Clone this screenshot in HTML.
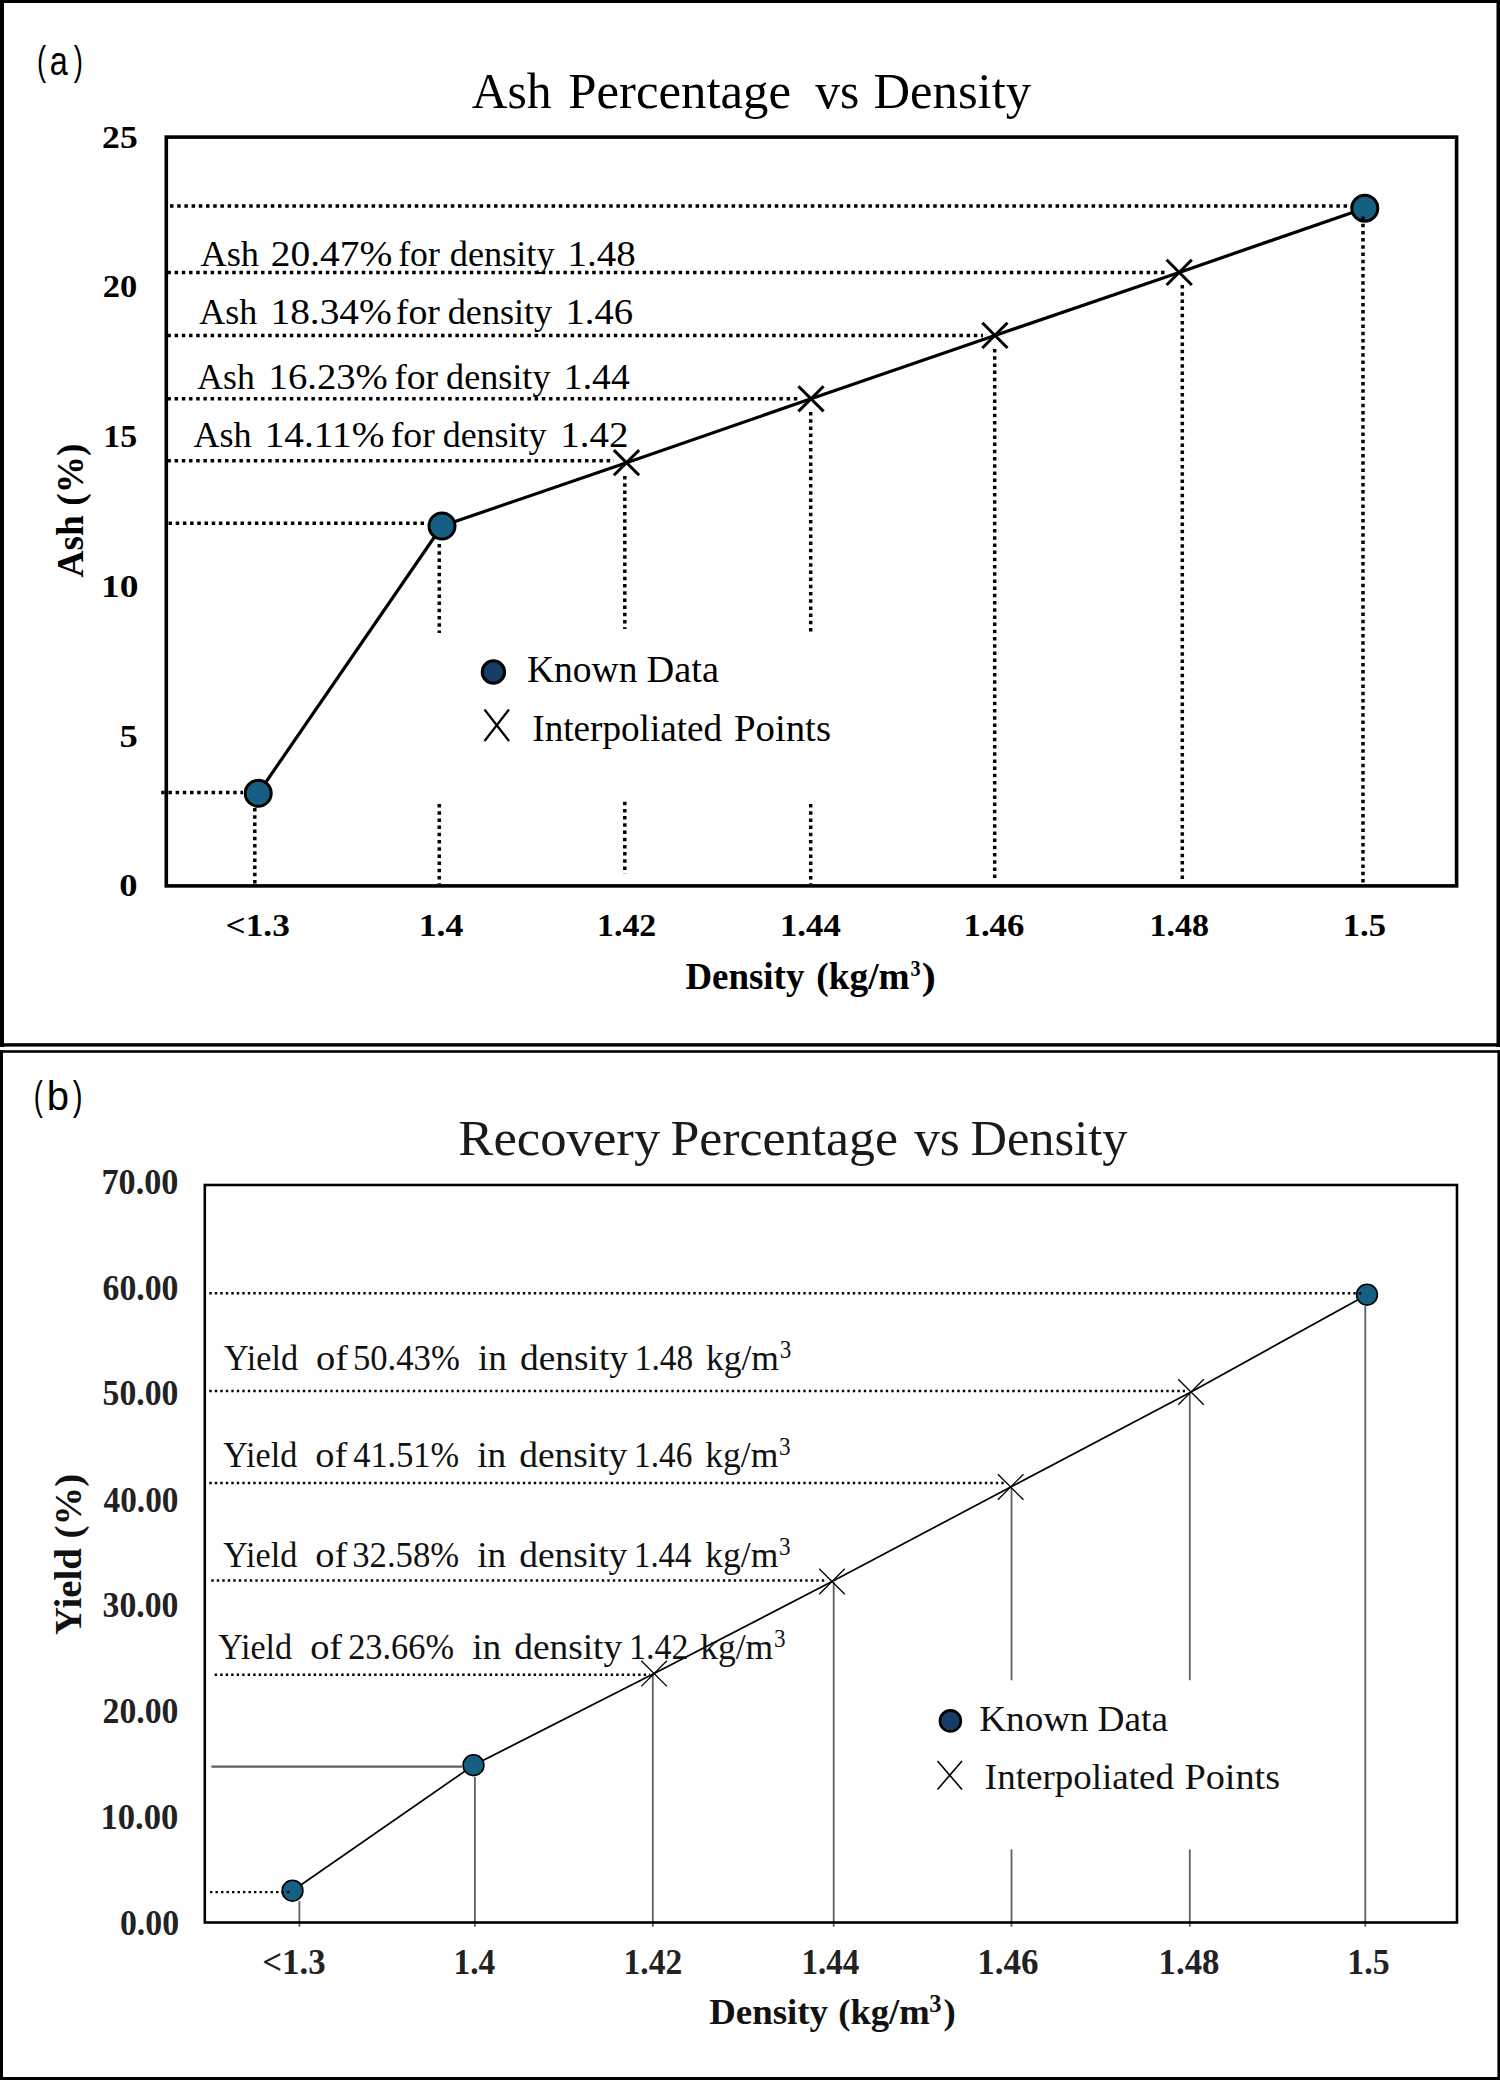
<!DOCTYPE html>
<html><head><meta charset="utf-8"><title>Ash and Recovery Percentage vs Density</title>
<style>
html,body{margin:0;padding:0;background:#fff;}
body{width:1500px;height:2080px;overflow:hidden;}
svg{display:block;}
</style></head>
<body>
<svg width="1500" height="2080" viewBox="0 0 1500 2080">
<rect x="0" y="0" width="1500" height="2080" fill="#fff"/>
<rect x="0" y="0" width="1500" height="3" fill="#000"/>
<rect x="0" y="0" width="4" height="1047" fill="#000"/>
<rect x="1496.5" y="0" width="3.5" height="1047" fill="#000"/>
<rect x="0" y="1043.2" width="1500" height="3.4" fill="#000"/>
<rect x="0" y="1050.2" width="1500" height="2.6" fill="#000"/>
<rect x="0" y="1050.2" width="3" height="1030" fill="#000"/>
<rect x="1497.4" y="1050.2" width="2.6" height="1030" fill="#000"/>
<rect x="0" y="2077" width="1500" height="3" fill="#000"/>
<rect x="166.3" y="137.1" width="1290.3" height="748.8" fill="none" stroke="#000" stroke-width="3.6"/>
<line x1="161.2" y1="792.5" x2="243" y2="792.5" stroke="#000" stroke-width="3.5" stroke-linecap="butt" stroke-dasharray="3.5 3.7"/>
<line x1="168.5" y1="523.3" x2="427" y2="523.3" stroke="#000" stroke-width="3.5" stroke-linecap="butt" stroke-dasharray="3.5 3.7"/>
<line x1="167.4" y1="460.7" x2="614" y2="460.7" stroke="#000" stroke-width="3.5" stroke-linecap="butt" stroke-dasharray="3.5 3.7"/>
<line x1="167.4" y1="398.8" x2="798" y2="398.8" stroke="#000" stroke-width="3.5" stroke-linecap="butt" stroke-dasharray="3.5 3.7"/>
<line x1="167.4" y1="335.6" x2="983" y2="335.6" stroke="#000" stroke-width="3.5" stroke-linecap="butt" stroke-dasharray="3.5 3.7"/>
<line x1="167.4" y1="272.4" x2="1167" y2="272.4" stroke="#000" stroke-width="3.5" stroke-linecap="butt" stroke-dasharray="3.5 3.7"/>
<line x1="170" y1="205.9" x2="1352" y2="205.9" stroke="#000" stroke-width="3.5" stroke-linecap="butt" stroke-dasharray="3.5 3.7"/>
<line x1="254.8" y1="808" x2="254.8" y2="884" stroke="#000" stroke-width="3.5" stroke-linecap="butt" stroke-dasharray="3.5 3.7"/>
<line x1="439.3" y1="544" x2="439.3" y2="633" stroke="#000" stroke-width="3.5" stroke-linecap="butt" stroke-dasharray="3.5 3.7"/>
<line x1="439.3" y1="804" x2="439.3" y2="884" stroke="#000" stroke-width="3.5" stroke-linecap="butt" stroke-dasharray="3.5 3.7"/>
<line x1="624.8" y1="476" x2="624.8" y2="629" stroke="#000" stroke-width="3.5" stroke-linecap="butt" stroke-dasharray="3.5 3.7"/>
<line x1="624.8" y1="801.7" x2="624.8" y2="874" stroke="#000" stroke-width="3.5" stroke-linecap="butt" stroke-dasharray="3.5 3.7"/>
<line x1="810.7" y1="412" x2="810.7" y2="632" stroke="#000" stroke-width="3.5" stroke-linecap="butt" stroke-dasharray="3.5 3.7"/>
<line x1="810.7" y1="804" x2="810.7" y2="884" stroke="#000" stroke-width="3.5" stroke-linecap="butt" stroke-dasharray="3.5 3.7"/>
<line x1="994.7" y1="349" x2="994.7" y2="880" stroke="#000" stroke-width="3.5" stroke-linecap="butt" stroke-dasharray="3.5 3.7"/>
<line x1="1182.3" y1="285" x2="1182.3" y2="880" stroke="#000" stroke-width="3.5" stroke-linecap="butt" stroke-dasharray="3.5 3.7"/>
<polyline points="258.2,793.3 442,526 626.5,462.7 811,398.8 994.9,335.4 1179.2,272.4 1364.8,208.2" fill="none" stroke="#000" stroke-width="3.2" stroke-linejoin="round"/>
<line x1="613.9" y1="450.09999999999997" x2="639.1" y2="475.3" stroke="#000" stroke-width="3.0" stroke-linecap="butt"/>
<line x1="613.9" y1="475.3" x2="639.1" y2="450.09999999999997" stroke="#000" stroke-width="3.0" stroke-linecap="butt"/>
<line x1="798.4" y1="386.2" x2="823.6" y2="411.40000000000003" stroke="#000" stroke-width="3.0" stroke-linecap="butt"/>
<line x1="798.4" y1="411.40000000000003" x2="823.6" y2="386.2" stroke="#000" stroke-width="3.0" stroke-linecap="butt"/>
<line x1="982.3" y1="322.79999999999995" x2="1007.5" y2="348.0" stroke="#000" stroke-width="3.0" stroke-linecap="butt"/>
<line x1="982.3" y1="348.0" x2="1007.5" y2="322.79999999999995" stroke="#000" stroke-width="3.0" stroke-linecap="butt"/>
<line x1="1166.6000000000001" y1="259.79999999999995" x2="1191.8" y2="285.0" stroke="#000" stroke-width="3.0" stroke-linecap="butt"/>
<line x1="1166.6000000000001" y1="285.0" x2="1191.8" y2="259.79999999999995" stroke="#000" stroke-width="3.0" stroke-linecap="butt"/>
<circle cx="258.2" cy="793.3" r="13" fill="#165f83" stroke="#000" stroke-width="3"/>
<circle cx="442" cy="526" r="13" fill="#165f83" stroke="#000" stroke-width="3"/>
<circle cx="1364.8" cy="208.2" r="13" fill="#165f83" stroke="#000" stroke-width="3"/>
<line x1="1363" y1="216.5" x2="1363" y2="884" stroke="#000" stroke-width="3.5" stroke-linecap="butt" stroke-dasharray="3.5 3.7"/>
<circle cx="493.4" cy="672" r="11.2" fill="#173c66" stroke="#000" stroke-width="3"/>
<line x1="484.5" y1="709.5" x2="509" y2="741" stroke="#000" stroke-width="2.2" stroke-linecap="butt"/>
<line x1="509" y1="709.5" x2="484.5" y2="741" stroke="#000" stroke-width="2.2" stroke-linecap="butt"/>
<line x1="211.3" y1="1766.7" x2="462" y2="1766.7" stroke="#606060" stroke-width="2.3" stroke-linecap="butt"/>
<line x1="299.4" y1="1901" x2="299.4" y2="1926.7" stroke="#606060" stroke-width="1.8" stroke-linecap="butt"/>
<line x1="474.9" y1="1777" x2="474.9" y2="1926.7" stroke="#606060" stroke-width="1.8" stroke-linecap="butt"/>
<line x1="652.8" y1="1675" x2="652.8" y2="1926.7" stroke="#606060" stroke-width="1.8" stroke-linecap="butt"/>
<line x1="833.7" y1="1582" x2="833.7" y2="1926.7" stroke="#606060" stroke-width="1.8" stroke-linecap="butt"/>
<line x1="1011.5" y1="1488" x2="1011.5" y2="1680.3" stroke="#606060" stroke-width="1.8" stroke-linecap="butt"/>
<line x1="1011.5" y1="1849.4" x2="1011.5" y2="1926.7" stroke="#606060" stroke-width="1.8" stroke-linecap="butt"/>
<line x1="1189.8" y1="1393" x2="1189.8" y2="1680.3" stroke="#606060" stroke-width="1.8" stroke-linecap="butt"/>
<line x1="1189.8" y1="1849.4" x2="1189.8" y2="1926.7" stroke="#606060" stroke-width="1.8" stroke-linecap="butt"/>
<line x1="1365.3" y1="1306" x2="1365.3" y2="1926.7" stroke="#606060" stroke-width="1.8" stroke-linecap="butt"/>
<rect x="204.8" y="1185" width="1252.2" height="737.5" fill="none" stroke="#000" stroke-width="2.6"/>
<polyline points="292.5,1890.7 473.5,1765.2 654.1,1673.6 832,1581.5 1010.7,1487 1191,1392 1367,1294.7" fill="none" stroke="#000" stroke-width="1.7"/>
<line x1="641.3000000000001" y1="1660.8" x2="666.9" y2="1686.3999999999999" stroke="#000" stroke-width="1.3" stroke-linecap="butt"/>
<line x1="641.3000000000001" y1="1686.3999999999999" x2="666.9" y2="1660.8" stroke="#000" stroke-width="1.3" stroke-linecap="butt"/>
<line x1="819.2" y1="1568.7" x2="844.8" y2="1594.3" stroke="#000" stroke-width="1.3" stroke-linecap="butt"/>
<line x1="819.2" y1="1594.3" x2="844.8" y2="1568.7" stroke="#000" stroke-width="1.3" stroke-linecap="butt"/>
<line x1="997.9000000000001" y1="1474.2" x2="1023.5" y2="1499.8" stroke="#000" stroke-width="1.3" stroke-linecap="butt"/>
<line x1="997.9000000000001" y1="1499.8" x2="1023.5" y2="1474.2" stroke="#000" stroke-width="1.3" stroke-linecap="butt"/>
<line x1="1178.2" y1="1379.2" x2="1203.8" y2="1404.8" stroke="#000" stroke-width="1.3" stroke-linecap="butt"/>
<line x1="1178.2" y1="1404.8" x2="1203.8" y2="1379.2" stroke="#000" stroke-width="1.3" stroke-linecap="butt"/>
<circle cx="292.5" cy="1890.7" r="10.4" fill="#165f83" stroke="#000" stroke-width="1.6"/>
<circle cx="473.5" cy="1765.2" r="10.4" fill="#165f83" stroke="#000" stroke-width="1.6"/>
<circle cx="1367" cy="1294.7" r="10.4" fill="#165f83" stroke="#000" stroke-width="1.6"/>
<line x1="210" y1="1892.1" x2="292" y2="1892.1" stroke="#000" stroke-width="2.4" stroke-linecap="butt" stroke-dasharray="2.4 3.1"/>
<line x1="214.7" y1="1674.7" x2="650" y2="1674.7" stroke="#000" stroke-width="2.4" stroke-linecap="butt" stroke-dasharray="2.4 3.1"/>
<line x1="211.3" y1="1580.5" x2="826" y2="1580.5" stroke="#000" stroke-width="2.4" stroke-linecap="butt" stroke-dasharray="2.4 3.1"/>
<line x1="209.3" y1="1483" x2="1005" y2="1483" stroke="#000" stroke-width="2.4" stroke-linecap="butt" stroke-dasharray="2.4 3.1"/>
<line x1="209.3" y1="1391" x2="1185" y2="1391" stroke="#000" stroke-width="2.4" stroke-linecap="butt" stroke-dasharray="2.4 3.1"/>
<line x1="209.3" y1="1293.3" x2="1364" y2="1293.3" stroke="#000" stroke-width="2.4" stroke-linecap="butt" stroke-dasharray="2.4 3.1"/>
<circle cx="950.4" cy="1720.9" r="10.5" fill="#173c66" stroke="#000" stroke-width="2.6"/>
<line x1="937.5" y1="1761" x2="962" y2="1789.5" stroke="#000" stroke-width="1.6" stroke-linecap="butt"/>
<line x1="962" y1="1761" x2="937.5" y2="1789.5" stroke="#000" stroke-width="1.6" stroke-linecap="butt"/>
<text x="36.96" y="75.0" font-family='"Liberation Sans", sans-serif' font-size="41.2" font-weight="normal" fill="#000" textLength="9.14" lengthAdjust="spacingAndGlyphs">(</text>
<text x="49.84" y="75.0" font-family='"Liberation Sans", sans-serif' font-size="41.2" font-weight="normal" fill="#000" textLength="18.06" lengthAdjust="spacingAndGlyphs">a</text>
<text x="73.8" y="75.0" font-family='"Liberation Sans", sans-serif' font-size="41.2" font-weight="normal" fill="#000" textLength="9.14" lengthAdjust="spacingAndGlyphs">)</text>
<text x="471.7" y="107.7" font-family='"Liberation Serif", serif' font-size="51.4" font-weight="normal" fill="#000" textLength="80.0" lengthAdjust="spacingAndGlyphs">Ash</text>
<text x="568.19" y="107.7" font-family='"Liberation Serif", serif' font-size="51.4" font-weight="normal" fill="#000" textLength="222.83" lengthAdjust="spacingAndGlyphs">Percentage</text>
<text x="815.3" y="107.7" font-family='"Liberation Serif", serif' font-size="51.4" font-weight="normal" fill="#000" textLength="44.05" lengthAdjust="spacingAndGlyphs">vs</text>
<text x="873.49" y="107.7" font-family='"Liberation Serif", serif' font-size="51.4" font-weight="normal" fill="#000" textLength="157.6" lengthAdjust="spacingAndGlyphs">Density</text>
<text x="102.13" y="147.6" font-family='"Liberation Serif", serif' font-size="32" font-weight="bold" fill="#000" textLength="35.56" lengthAdjust="spacingAndGlyphs">25</text>
<text x="102.85" y="297.1" font-family='"Liberation Serif", serif' font-size="32" font-weight="bold" fill="#000" textLength="34.49" lengthAdjust="spacingAndGlyphs">20</text>
<text x="103.2" y="447.1" font-family='"Liberation Serif", serif' font-size="32" font-weight="bold" fill="#000" textLength="33.88" lengthAdjust="spacingAndGlyphs">15</text>
<text x="101.13" y="597.0" font-family='"Liberation Serif", serif' font-size="32" font-weight="bold" fill="#000" textLength="37.49" lengthAdjust="spacingAndGlyphs">10</text>
<text x="119.46" y="746.5" font-family='"Liberation Serif", serif' font-size="32" font-weight="bold" fill="#000" textLength="18.29" lengthAdjust="spacingAndGlyphs">5</text>
<text x="119.26" y="896.4" font-family='"Liberation Serif", serif' font-size="32" font-weight="bold" fill="#000" textLength="18.29" lengthAdjust="spacingAndGlyphs">0</text>
<text x="225.51" y="936.4" font-family='"Liberation Serif", serif' font-size="31.5" font-weight="bold" fill="#000" textLength="64.31" lengthAdjust="spacingAndGlyphs">&lt;1.3</text>
<text x="418.75" y="936.4" font-family='"Liberation Serif", serif' font-size="31.5" font-weight="bold" fill="#000" textLength="44.67" lengthAdjust="spacingAndGlyphs">1.4</text>
<text x="597.09" y="936.4" font-family='"Liberation Serif", serif' font-size="31.5" font-weight="bold" fill="#000" textLength="59.17" lengthAdjust="spacingAndGlyphs">1.42</text>
<text x="779.98" y="936.4" font-family='"Liberation Serif", serif' font-size="31.5" font-weight="bold" fill="#000" textLength="60.87" lengthAdjust="spacingAndGlyphs">1.44</text>
<text x="963.52" y="936.4" font-family='"Liberation Serif", serif' font-size="31.5" font-weight="bold" fill="#000" textLength="60.8" lengthAdjust="spacingAndGlyphs">1.46</text>
<text x="1149.6" y="936.4" font-family='"Liberation Serif", serif' font-size="31.5" font-weight="bold" fill="#000" textLength="59.33" lengthAdjust="spacingAndGlyphs">1.48</text>
<text x="1342.84" y="936.4" font-family='"Liberation Serif", serif' font-size="31.5" font-weight="bold" fill="#000" textLength="43.24" lengthAdjust="spacingAndGlyphs">1.5</text>
<text x="685.39" y="988.9" font-family='"Liberation Serif", serif' font-size="37.5" font-weight="bold" fill="#000" textLength="119.01" lengthAdjust="spacingAndGlyphs">Density</text>
<text x="816.34" y="988.9" font-family='"Liberation Serif", serif' font-size="37.5" font-weight="bold" fill="#000" textLength="93.28" lengthAdjust="spacingAndGlyphs">(kg/m</text>
<text x="910.5" y="976.4" font-family='"Liberation Serif", serif' font-size="24" font-weight="bold" fill="#000" textLength="10.08" lengthAdjust="spacingAndGlyphs">3</text>
<text x="921.67" y="988.9" font-family='"Liberation Serif", serif' font-size="37.5" font-weight="bold" fill="#000" textLength="14.05" lengthAdjust="spacingAndGlyphs">)</text>
<text transform="translate(82.8,0) rotate(-90)" x="-577.4" y="0" font-family='"Liberation Serif", serif' font-size="38" font-weight="bold" fill="#000" textLength="133.81" lengthAdjust="spacingAndGlyphs">Ash (%)</text>
<text x="200.4" y="266.4" font-family='"Liberation Serif", serif' font-size="35.9" font-weight="normal" fill="#000" textLength="58.61" lengthAdjust="spacingAndGlyphs">Ash</text>
<text x="270.74" y="266.4" font-family='"Liberation Serif", serif' font-size="35.9" font-weight="normal" fill="#000" textLength="121.49" lengthAdjust="spacingAndGlyphs">20.47%</text>
<text x="398.18" y="266.4" font-family='"Liberation Serif", serif' font-size="35.9" font-weight="normal" fill="#000" textLength="41.62" lengthAdjust="spacingAndGlyphs">for</text>
<text x="449.79" y="266.4" font-family='"Liberation Serif", serif' font-size="35.9" font-weight="normal" fill="#000" textLength="104.82" lengthAdjust="spacingAndGlyphs">density</text>
<text x="567.58" y="266.4" font-family='"Liberation Serif", serif' font-size="35.9" font-weight="normal" fill="#000" textLength="68.13" lengthAdjust="spacingAndGlyphs">1.48</text>
<text x="199.2" y="324.0" font-family='"Liberation Serif", serif' font-size="35.9" font-weight="normal" fill="#000" textLength="58.0" lengthAdjust="spacingAndGlyphs">Ash</text>
<text x="270.48" y="324.0" font-family='"Liberation Serif", serif' font-size="35.9" font-weight="normal" fill="#000" textLength="121.39" lengthAdjust="spacingAndGlyphs">18.34%</text>
<text x="395.86" y="324.0" font-family='"Liberation Serif", serif' font-size="35.9" font-weight="normal" fill="#000" textLength="44.05" lengthAdjust="spacingAndGlyphs">for</text>
<text x="447.79" y="324.0" font-family='"Liberation Serif", serif' font-size="35.9" font-weight="normal" fill="#000" textLength="104.4" lengthAdjust="spacingAndGlyphs">density</text>
<text x="565.52" y="324.0" font-family='"Liberation Serif", serif' font-size="35.9" font-weight="normal" fill="#000" textLength="67.63" lengthAdjust="spacingAndGlyphs">1.46</text>
<text x="197.3" y="389.3" font-family='"Liberation Serif", serif' font-size="35.9" font-weight="normal" fill="#000" textLength="57.41" lengthAdjust="spacingAndGlyphs">Ash</text>
<text x="268.59" y="389.3" font-family='"Liberation Serif", serif' font-size="35.9" font-weight="normal" fill="#000" textLength="119.14" lengthAdjust="spacingAndGlyphs">16.23%</text>
<text x="394.16" y="389.3" font-family='"Liberation Serif", serif' font-size="35.9" font-weight="normal" fill="#000" textLength="44.05" lengthAdjust="spacingAndGlyphs">for</text>
<text x="446.09" y="389.3" font-family='"Liberation Serif", serif' font-size="35.9" font-weight="normal" fill="#000" textLength="104.4" lengthAdjust="spacingAndGlyphs">density</text>
<text x="563.86" y="389.3" font-family='"Liberation Serif", serif' font-size="35.9" font-weight="normal" fill="#000" textLength="65.94" lengthAdjust="spacingAndGlyphs">1.44</text>
<text x="193.4" y="446.5" font-family='"Liberation Serif", serif' font-size="35.9" font-weight="normal" fill="#000" textLength="58.21" lengthAdjust="spacingAndGlyphs">Ash</text>
<text x="264.7" y="446.5" font-family='"Liberation Serif", serif' font-size="35.9" font-weight="normal" fill="#000" textLength="119.73" lengthAdjust="spacingAndGlyphs">14.11%</text>
<text x="390.76" y="446.5" font-family='"Liberation Serif", serif' font-size="35.9" font-weight="normal" fill="#000" textLength="44.05" lengthAdjust="spacingAndGlyphs">for</text>
<text x="442.69" y="446.5" font-family='"Liberation Serif", serif' font-size="35.9" font-weight="normal" fill="#000" textLength="103.81" lengthAdjust="spacingAndGlyphs">density</text>
<text x="560.35" y="446.5" font-family='"Liberation Serif", serif' font-size="35.9" font-weight="normal" fill="#000" textLength="68.21" lengthAdjust="spacingAndGlyphs">1.42</text>
<text x="526.99" y="682.1" font-family='"Liberation Serif", serif' font-size="38" font-weight="normal" fill="#000" textLength="110.41" lengthAdjust="spacingAndGlyphs">Known</text>
<text x="646.58" y="682.1" font-family='"Liberation Serif", serif' font-size="38" font-weight="normal" fill="#000" textLength="72.44" lengthAdjust="spacingAndGlyphs">Data</text>
<text x="532.29" y="741.4" font-family='"Liberation Serif", serif' font-size="38" font-weight="normal" fill="#000" textLength="189.81" lengthAdjust="spacingAndGlyphs">Interpoliated</text>
<text x="733.98" y="741.4" font-family='"Liberation Serif", serif' font-size="38" font-weight="normal" fill="#000" textLength="97.04" lengthAdjust="spacingAndGlyphs">Points</text>
<text x="33.76" y="1109.9" font-family='"Liberation Sans", sans-serif' font-size="41.2" font-weight="normal" fill="#000" textLength="9.14" lengthAdjust="spacingAndGlyphs">(</text>
<text x="46.74" y="1109.9" font-family='"Liberation Sans", sans-serif' font-size="41.2" font-weight="normal" fill="#000" textLength="22.33" lengthAdjust="spacingAndGlyphs">b</text>
<text x="72.8" y="1109.9" font-family='"Liberation Sans", sans-serif' font-size="41.2" font-weight="normal" fill="#000" textLength="9.84" lengthAdjust="spacingAndGlyphs">)</text>
<text x="458.29" y="1155.4" font-family='"Liberation Serif", serif' font-size="50.4" font-weight="normal" fill="#1a1a1a" textLength="202.01" lengthAdjust="spacingAndGlyphs">Recovery</text>
<text x="670.49" y="1155.4" font-family='"Liberation Serif", serif' font-size="50.4" font-weight="normal" fill="#1a1a1a" textLength="227.42" lengthAdjust="spacingAndGlyphs">Percentage</text>
<text x="914.2" y="1155.4" font-family='"Liberation Serif", serif' font-size="50.4" font-weight="normal" fill="#1a1a1a" textLength="45.64" lengthAdjust="spacingAndGlyphs">vs</text>
<text x="970.49" y="1155.4" font-family='"Liberation Serif", serif' font-size="50.4" font-weight="normal" fill="#1a1a1a" textLength="157.01" lengthAdjust="spacingAndGlyphs">Density</text>
<text x="101.52" y="1194.0" font-family='"Liberation Serif", serif' font-size="36" font-weight="bold" fill="#222" textLength="76.92" lengthAdjust="spacingAndGlyphs">70.00</text>
<text x="102.57" y="1299.6" font-family='"Liberation Serif", serif' font-size="36" font-weight="bold" fill="#222" textLength="75.85" lengthAdjust="spacingAndGlyphs">60.00</text>
<text x="102.57" y="1405.2" font-family='"Liberation Serif", serif' font-size="36" font-weight="bold" fill="#222" textLength="75.85" lengthAdjust="spacingAndGlyphs">50.00</text>
<text x="103.6" y="1511.7" font-family='"Liberation Serif", serif' font-size="36" font-weight="bold" fill="#222" textLength="74.81" lengthAdjust="spacingAndGlyphs">40.00</text>
<text x="102.57" y="1616.8" font-family='"Liberation Serif", serif' font-size="36" font-weight="bold" fill="#222" textLength="75.85" lengthAdjust="spacingAndGlyphs">30.00</text>
<text x="102.57" y="1723.0" font-family='"Liberation Serif", serif' font-size="36" font-weight="bold" fill="#222" textLength="75.85" lengthAdjust="spacingAndGlyphs">20.00</text>
<text x="100.43" y="1829.2" font-family='"Liberation Serif", serif' font-size="36" font-weight="bold" fill="#222" textLength="78.02" lengthAdjust="spacingAndGlyphs">10.00</text>
<text x="119.95" y="1935.4" font-family='"Liberation Serif", serif' font-size="36" font-weight="bold" fill="#222" textLength="59.12" lengthAdjust="spacingAndGlyphs">0.00</text>
<text x="262.31" y="1974" font-family='"Liberation Serif", serif' font-size="35" font-weight="bold" fill="#222" textLength="63.32" lengthAdjust="spacingAndGlyphs">&lt;1.3</text>
<text x="453.4" y="1974" font-family='"Liberation Serif", serif' font-size="35" font-weight="bold" fill="#222" textLength="41.89" lengthAdjust="spacingAndGlyphs">1.4</text>
<text x="623.49" y="1974" font-family='"Liberation Serif", serif' font-size="35" font-weight="bold" fill="#222" textLength="58.75" lengthAdjust="spacingAndGlyphs">1.42</text>
<text x="801.41" y="1974" font-family='"Liberation Serif", serif' font-size="35" font-weight="bold" fill="#222" textLength="57.91" lengthAdjust="spacingAndGlyphs">1.44</text>
<text x="977.31" y="1974" font-family='"Liberation Serif", serif' font-size="35" font-weight="bold" fill="#222" textLength="61.23" lengthAdjust="spacingAndGlyphs">1.46</text>
<text x="1158.58" y="1974" font-family='"Liberation Serif", serif' font-size="35" font-weight="bold" fill="#222" textLength="60.87" lengthAdjust="spacingAndGlyphs">1.48</text>
<text x="1347.3" y="1974" font-family='"Liberation Serif", serif' font-size="35" font-weight="bold" fill="#222" textLength="42.35" lengthAdjust="spacingAndGlyphs">1.5</text>
<text x="709.19" y="2024.2" font-family='"Liberation Serif", serif' font-size="36.6" font-weight="bold" fill="#111" textLength="118.81" lengthAdjust="spacingAndGlyphs">Density</text>
<text x="838.28" y="2024.2" font-family='"Liberation Serif", serif' font-size="36.6" font-weight="bold" fill="#111" textLength="91.43" lengthAdjust="spacingAndGlyphs">(kg/m</text>
<text x="929.33" y="2011.5" font-family='"Liberation Serif", serif' font-size="25" font-weight="bold" fill="#111" textLength="12.25" lengthAdjust="spacingAndGlyphs">3</text>
<text x="943.56" y="2024.2" font-family='"Liberation Serif", serif' font-size="36.6" font-weight="bold" fill="#111" textLength="12.25" lengthAdjust="spacingAndGlyphs">)</text>
<text transform="translate(80.9,0) rotate(-90)" x="-1635.02" y="0" font-family='"Liberation Serif", serif' font-size="37.5" font-weight="bold" fill="#111" textLength="161.06" lengthAdjust="spacingAndGlyphs">Yield (%)</text>
<text x="224.0" y="1370" font-family='"Liberation Serif", serif' font-size="36.2" font-weight="normal" fill="#111" textLength="74.0" lengthAdjust="spacingAndGlyphs">Yield</text>
<text x="315.97" y="1370" font-family='"Liberation Serif", serif' font-size="36.2" font-weight="normal" fill="#111" textLength="32.03" lengthAdjust="spacingAndGlyphs">of</text>
<text x="352.95" y="1370" font-family='"Liberation Serif", serif' font-size="36.2" font-weight="normal" fill="#111" textLength="106.86" lengthAdjust="spacingAndGlyphs">50.43%</text>
<text x="477.96" y="1370" font-family='"Liberation Serif", serif' font-size="36.2" font-weight="normal" fill="#111" textLength="29.04" lengthAdjust="spacingAndGlyphs">in</text>
<text x="519.99" y="1370" font-family='"Liberation Serif", serif' font-size="36.2" font-weight="normal" fill="#111" textLength="108.01" lengthAdjust="spacingAndGlyphs">density</text>
<text x="634.76" y="1370" font-family='"Liberation Serif", serif' font-size="36.2" font-weight="normal" fill="#111" textLength="58.32" lengthAdjust="spacingAndGlyphs">1.48</text>
<text x="705.99" y="1370" font-family='"Liberation Serif", serif' font-size="36.2" font-weight="normal" fill="#111" textLength="73.01" lengthAdjust="spacingAndGlyphs">kg/m</text>
<text x="779.71" y="1357.6" font-family='"Liberation Serif", serif' font-size="26" font-weight="normal" fill="#111" textLength="11.57" lengthAdjust="spacingAndGlyphs">3</text>
<text x="223.3" y="1467.3" font-family='"Liberation Serif", serif' font-size="36.2" font-weight="normal" fill="#111" textLength="74.0" lengthAdjust="spacingAndGlyphs">Yield</text>
<text x="315.27" y="1467.3" font-family='"Liberation Serif", serif' font-size="36.2" font-weight="normal" fill="#111" textLength="32.03" lengthAdjust="spacingAndGlyphs">of</text>
<text x="353.29" y="1467.3" font-family='"Liberation Serif", serif' font-size="36.2" font-weight="normal" fill="#111" textLength="105.82" lengthAdjust="spacingAndGlyphs">41.51%</text>
<text x="477.26" y="1467.3" font-family='"Liberation Serif", serif' font-size="36.2" font-weight="normal" fill="#111" textLength="29.04" lengthAdjust="spacingAndGlyphs">in</text>
<text x="519.29" y="1467.3" font-family='"Liberation Serif", serif' font-size="36.2" font-weight="normal" fill="#111" textLength="108.01" lengthAdjust="spacingAndGlyphs">density</text>
<text x="634.06" y="1467.3" font-family='"Liberation Serif", serif' font-size="36.2" font-weight="normal" fill="#111" textLength="58.32" lengthAdjust="spacingAndGlyphs">1.46</text>
<text x="705.29" y="1467.3" font-family='"Liberation Serif", serif' font-size="36.2" font-weight="normal" fill="#111" textLength="73.01" lengthAdjust="spacingAndGlyphs">kg/m</text>
<text x="779.01" y="1454.9" font-family='"Liberation Serif", serif' font-size="26" font-weight="normal" fill="#111" textLength="11.57" lengthAdjust="spacingAndGlyphs">3</text>
<text x="223.3" y="1567.3" font-family='"Liberation Serif", serif' font-size="36.2" font-weight="normal" fill="#111" textLength="74.0" lengthAdjust="spacingAndGlyphs">Yield</text>
<text x="315.27" y="1567.3" font-family='"Liberation Serif", serif' font-size="36.2" font-weight="normal" fill="#111" textLength="32.03" lengthAdjust="spacingAndGlyphs">of</text>
<text x="352.25" y="1567.3" font-family='"Liberation Serif", serif' font-size="36.2" font-weight="normal" fill="#111" textLength="106.86" lengthAdjust="spacingAndGlyphs">32.58%</text>
<text x="477.26" y="1567.3" font-family='"Liberation Serif", serif' font-size="36.2" font-weight="normal" fill="#111" textLength="29.04" lengthAdjust="spacingAndGlyphs">in</text>
<text x="519.29" y="1567.3" font-family='"Liberation Serif", serif' font-size="36.2" font-weight="normal" fill="#111" textLength="108.01" lengthAdjust="spacingAndGlyphs">density</text>
<text x="634.12" y="1567.3" font-family='"Liberation Serif", serif' font-size="36.2" font-weight="normal" fill="#111" textLength="57.18" lengthAdjust="spacingAndGlyphs">1.44</text>
<text x="705.29" y="1567.3" font-family='"Liberation Serif", serif' font-size="36.2" font-weight="normal" fill="#111" textLength="73.01" lengthAdjust="spacingAndGlyphs">kg/m</text>
<text x="779.01" y="1554.9" font-family='"Liberation Serif", serif' font-size="26" font-weight="normal" fill="#111" textLength="11.57" lengthAdjust="spacingAndGlyphs">3</text>
<text x="218.2" y="1659.1" font-family='"Liberation Serif", serif' font-size="36.2" font-weight="normal" fill="#111" textLength="74.0" lengthAdjust="spacingAndGlyphs">Yield</text>
<text x="310.17" y="1659.1" font-family='"Liberation Serif", serif' font-size="36.2" font-weight="normal" fill="#111" textLength="32.03" lengthAdjust="spacingAndGlyphs">of</text>
<text x="348.19" y="1659.1" font-family='"Liberation Serif", serif' font-size="36.2" font-weight="normal" fill="#111" textLength="105.82" lengthAdjust="spacingAndGlyphs">23.66%</text>
<text x="472.16" y="1659.1" font-family='"Liberation Serif", serif' font-size="36.2" font-weight="normal" fill="#111" textLength="29.04" lengthAdjust="spacingAndGlyphs">in</text>
<text x="514.19" y="1659.1" font-family='"Liberation Serif", serif' font-size="36.2" font-weight="normal" fill="#111" textLength="108.01" lengthAdjust="spacingAndGlyphs">density</text>
<text x="628.89" y="1659.1" font-family='"Liberation Serif", serif' font-size="36.2" font-weight="normal" fill="#111" textLength="59.51" lengthAdjust="spacingAndGlyphs">1.42</text>
<text x="700.19" y="1659.1" font-family='"Liberation Serif", serif' font-size="36.2" font-weight="normal" fill="#111" textLength="73.01" lengthAdjust="spacingAndGlyphs">kg/m</text>
<text x="773.91" y="1646.7" font-family='"Liberation Serif", serif' font-size="26" font-weight="normal" fill="#111" textLength="11.57" lengthAdjust="spacingAndGlyphs">3</text>
<text x="979.29" y="1731" font-family='"Liberation Serif", serif' font-size="35.6" font-weight="normal" fill="#111" textLength="109.41" lengthAdjust="spacingAndGlyphs">Known</text>
<text x="1097.58" y="1731" font-family='"Liberation Serif", serif' font-size="35.6" font-weight="normal" fill="#111" textLength="70.42" lengthAdjust="spacingAndGlyphs">Data</text>
<text x="984.89" y="1789.3" font-family='"Liberation Serif", serif' font-size="35.6" font-weight="normal" fill="#111" textLength="189.01" lengthAdjust="spacingAndGlyphs">Interpoliated</text>
<text x="1184.48" y="1789.3" font-family='"Liberation Serif", serif' font-size="35.6" font-weight="normal" fill="#111" textLength="95.64" lengthAdjust="spacingAndGlyphs">Points</text>
</svg>
</body></html>
